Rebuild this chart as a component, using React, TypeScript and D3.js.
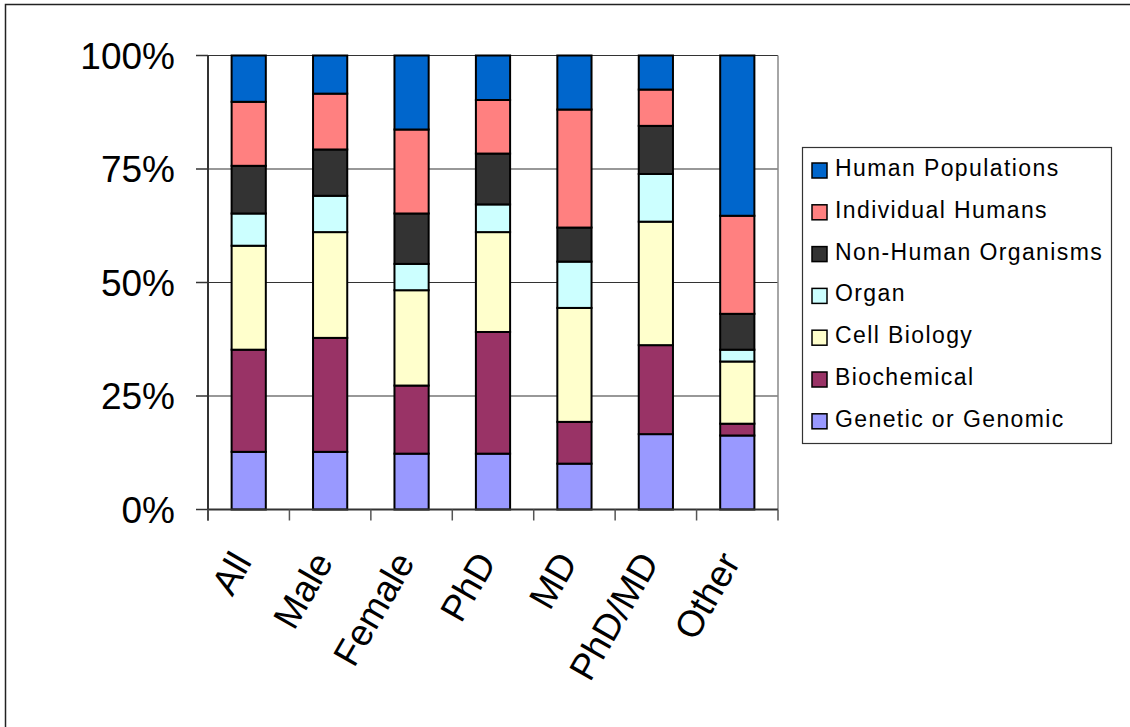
import React from "react";
import * as d3 from "d3";

const categories = ["All", "Male", "Female", "PhD", "MD", "PhD/MD", "Other"];
const seriesNames = [
  "Genetic or Genomic",
  "Biochemical",
  "Cell Biology",
  "Organ",
  "Non-Human Organisms",
  "Individual Humans",
  "Human Populations",
];
const seriesColors = ["#9999FF", "#993366", "#FFFFCC", "#CCFFFF", "#333333", "#FF8080", "#0066CC"];
const genetic = [12.7, 12.7, 12.3, 12.3, 10.1, 16.6, 16.3];
const biochemical = [22.5, 25.1, 15.0, 26.8, 9.2, 19.6, 2.6];
const cellBiology = [22.9, 23.3, 21.0, 22.0, 25.1, 27.2, 13.7];
const organ = [7.1, 8.0, 5.8, 6.1, 10.2, 10.5, 2.6];
const nonHuman = [10.5, 10.2, 11.1, 11.2, 7.5, 10.6, 7.9];
const individual = [14.1, 12.3, 18.5, 11.8, 26.0, 8.0, 21.6];
const populations = [10.2, 8.4, 16.3, 9.8, 11.9, 7.5, 35.3];
const yTicks = [0, 0.25, 0.5, 0.75, 1];
const yTickLabels = ["0%", "25%", "50%", "75%", "100%"];

const seriesValues = [genetic, biochemical, cellBiology, organ, nonHuman, individual, populations];

export default function App() {
  const left = 208, right = 778, top = 55.5, bottom = 509.5;
  const x = d3.scaleBand<string>().domain(categories).range([left, right]).paddingInner(0.58).paddingOuter(0.29);
  const y = d3.scaleLinear().domain([0, 1]).range([bottom, top]);
  const rows = categories.map((c, i) => {
    const r: any = { cat: c };
    seriesNames.forEach((s, j) => (r[s] = seriesValues[j][i]));
    return r;
  });
  const stacked = d3.stack<any>().keys(seriesNames).offset(d3.stackOffsetExpand)(rows);
  const step = x.step();
  const font = "Arial, 'Liberation Sans', sans-serif";

  return (
    <svg width={1130} height={727} style={{ position: "absolute", left: 0, top: 0 }} fontFamily={font}>
      <rect x={0} y={0} width={1130} height={727} fill="#fff" />
      <rect x={5.5} y={4.5} width={1300} height={900} fill="none" stroke="#222" strokeWidth={1.5} />
      {/* gridlines */}
      {yTicks.slice(1).map((t) => (
        <line key={t} x1={left} x2={right} y1={y(t)} y2={y(t)} stroke="#333" strokeWidth={1.2} />
      ))}
      <line x1={right} x2={right} y1={top} y2={bottom} stroke="#888" strokeWidth={1.5} />
      {/* bars */}
      {stacked.map((layer, j) =>
        layer.map((d, i) => (
          <rect
            key={`${j}-${i}`}
            x={x(categories[i])}
            y={y(d[1])}
            width={x.bandwidth()}
            height={y(d[0]) - y(d[1])}
            fill={seriesColors[j]}
            stroke="#000"
            strokeWidth={2}
          />
        ))
      )}
      {/* axes */}
      <line x1={left} x2={left} y1={top} y2={bottom + 11} stroke="#333" strokeWidth={2} />
      <line x1={left} x2={right} y1={bottom} y2={bottom} stroke="#333" strokeWidth={2} />
      {yTicks.map((t, i) => (
        <g key={t}>
          <line x1={left - 12} x2={left} y1={y(t)} y2={y(t)} stroke="#333" strokeWidth={1.5} />
          <text x={175} y={y(t) + 13} textAnchor="end" fontSize={37} fill="#000">
            {yTickLabels[i]}
          </text>
        </g>
      ))}
      {d3.range(categories.length + 1).map((k) => (
        <line key={k} x1={left + k * step} x2={left + k * step} y1={bottom} y2={bottom + 11} stroke="#555" strokeWidth={1.5} />
      ))}
      {categories.map((c) => {
        const cx = (x(c) as number) + x.bandwidth() / 2 + 4;
        return (
          <text key={c} transform={`translate(${cx},562) rotate(-60)`} textAnchor="end" fontSize={37} fill="#000">
            {c}
          </text>
        );
      })}
      {/* legend */}
      <rect x={802.5} y={147.5} width={309} height={296} fill="#fff" stroke="#333" strokeWidth={1.2} />
      {seriesNames
        .slice()
        .reverse()
        .map((s, k) => {
          const j = seriesNames.length - 1 - k;
          const by = 176 + k * 41.8;
          return (
            <g key={s}>
              <rect x={812} y={by - 13} width={15} height={15} fill={seriesColors[j]} stroke="#000" strokeWidth={1.5} />
              <text x={835} y={by} fontSize={23} letterSpacing={1.4} fill="#000">
                {s}
              </text>
            </g>
          );
        })}
    </svg>
  );
}
